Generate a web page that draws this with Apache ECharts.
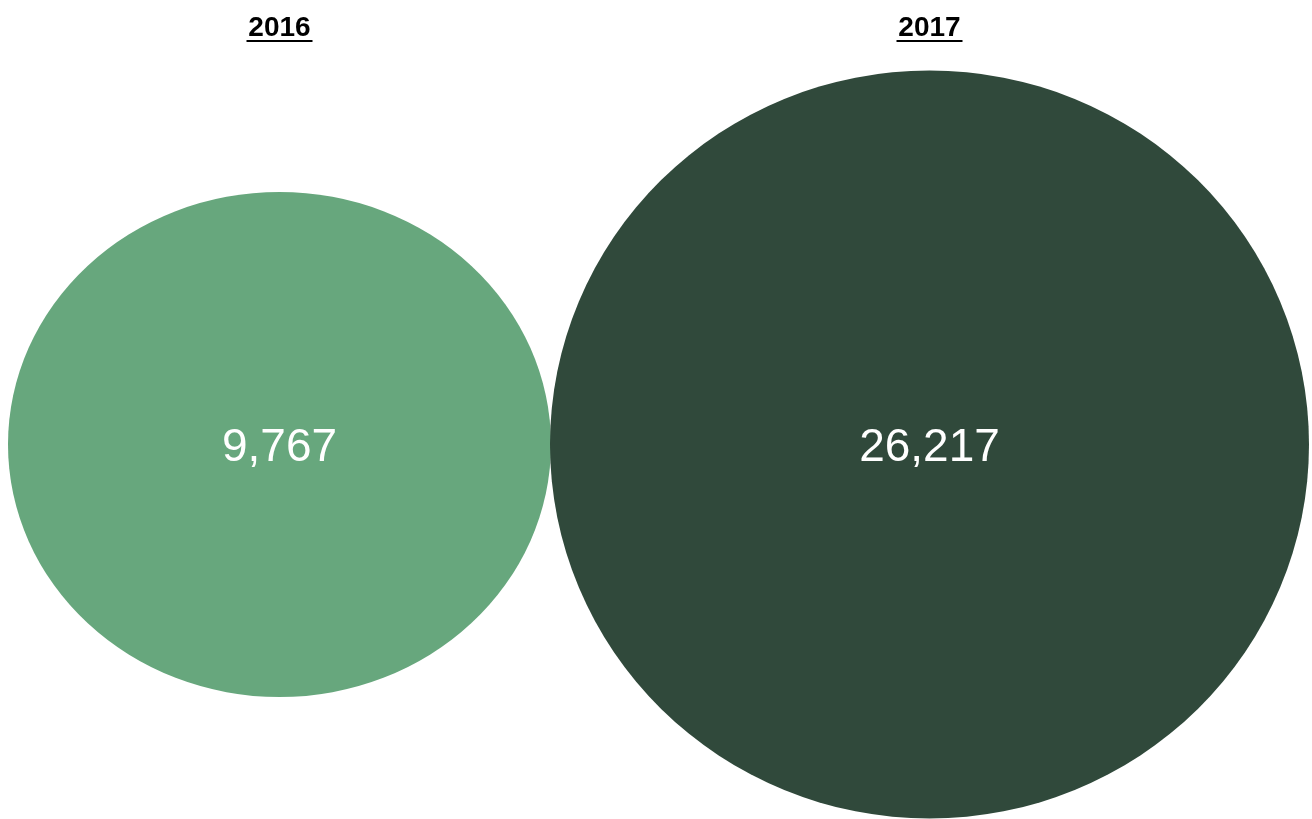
<!DOCTYPE html>
<html>
<head>
<meta charset="utf-8">
<script src="https://cdn.jsdelivr.net/npm/echarts@6/dist/echarts.min.js"></script>
<style>
html,body{margin:0;padding:0;background:#fff;}
#chart{width:1312px;height:819px;}
</style>
</head>
<body>
<div id="chart"></div>
<script>
const categories = ['2016', '2017'];
const values = [9767, 26217];
const colors = ['#67a77d', '#30493b'];
const bubbleSizes = [[543, 505], [759, 748]];

const chart = echarts.init(document.getElementById('chart'));
const fmt = v => v.toLocaleString('en-US');

chart.setOption({
  animation: false,
  grid: { left: 279.5, right: 382.5, top: 70, bottom: 0 },
  xAxis: {
    type: 'category',
    data: categories,
    boundaryGap: false,
    position: 'top',
    axisLine: { show: false },
    axisTick: { show: false },
    splitLine: { show: false },
    axisLabel: {
      margin: 28,
      color: '#000',
      fontFamily: 'Liberation Sans',
      fontWeight: 'bold',
      fontSize: 28,
      interval: 0
    }
  },
  yAxis: {
    type: 'value',
    min: -1, max: 1,
    show: false
  },
  series: [{
    type: 'scatter',
    symbol: 'circle',
    clip: false,
    data: categories.map((c, i) => ({
      value: [c, 0, values[i]],
      symbolSize: bubbleSizes[i],
      itemStyle: { color: colors[i], opacity: 1 }
    })),
    label: {
      show: true,
      position: 'inside',
      offset: [0, 4],
      color: '#fff',
      fontFamily: 'Liberation Sans',
      fontSize: 46,
      formatter: p => fmt(p.value[2])
    },
    emphasis: { disabled: true }
  }]
});

// underline the year titles
const graphics = categories.map(c => {
  const x = chart.convertToPixel({ xAxisIndex: 0 }, c);
  return {
    type: 'rect',
    shape: { x: x - 33, y: 40, width: 66, height: 2 },
    style: { fill: '#000' }
  };
});
chart.setOption({ graphic: graphics });
</script>
</body>
</html>
